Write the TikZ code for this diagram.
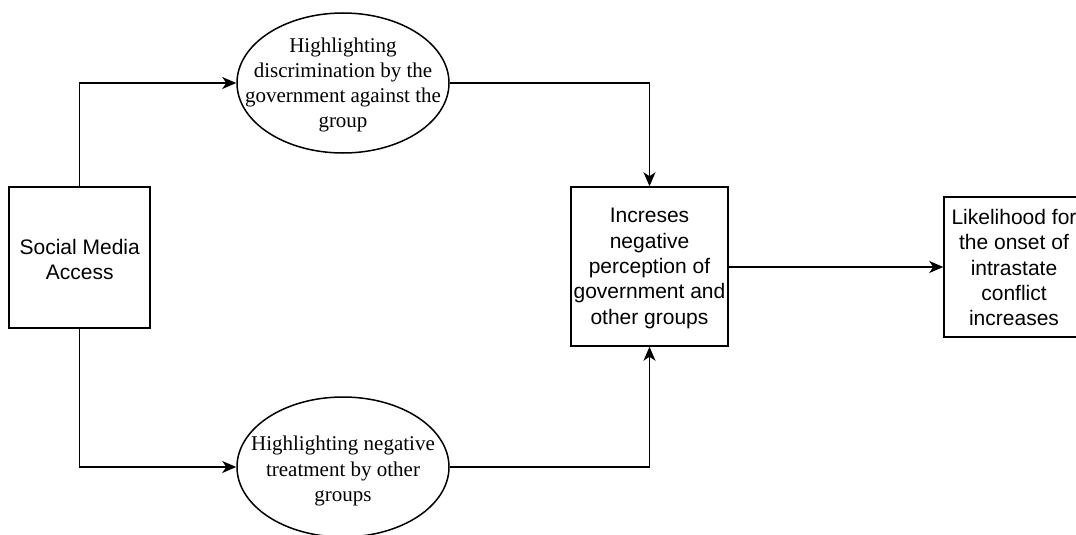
\documentclass[tikz,border=0pt]{standalone}
\usepackage{fontspec}
\setmainfont{Liberation Serif}
\setsansfont{Liberation Sans}
\usetikzlibrary{arrows.meta,shapes.geometric}

\begin{document}
\begin{tikzpicture}[x=1pt,y=-1pt,
        box/.style={draw=black,line width=1.5pt,fill=white,minimum width=#1,inner sep=0pt},
        oval/.style={draw=black,line width=1.5pt,fill=white,ellipse,minimum width=212pt,minimum height=140pt,inner sep=0pt},
        boxtext/.style={font=\sffamily\fontsize{21}{25.3}\selectfont,align=center,inner sep=0pt},
        ovaltext/.style={font=\rmfamily\fontsize{21}{25.3}\selectfont,align=center,inner sep=0pt},
        conn/.style={line width=1.5pt,-{Stealth[length=14pt,width=12pt,inset=4pt]}}]
        \useasboundingbox (0,0) rectangle (1076,535);
        \node [box=141pt,minimum height=141pt] (social) at (79.7,257.5) {};
        \node [boxtext] (socialtext) at (79.7,259.5) {Social Media\\Access};
        \node [oval] (discr) at (343,83) {};
        \node [ovaltext] (discrtext) at (343,85) {Highlighting\\discrimination by the\\government against the\\group};
        \node [oval] (treat) at (343,467) {};
        \node [ovaltext] (treattext) at (343,471) {Highlighting negative\\treatment by other\\groups};
        \node [box=157pt,minimum height=159pt] (percep) at (649.5,266.5) {};
        \node [boxtext] (perceptext) at (649.5,268.5) {Increses\\negative\\perception of\\government and\\other groups};
        \node [box=140pt,minimum height=140pt] (onset) at (1014,267) {};
        \node [boxtext] (onsettext) at (1014,267.5) {Likelihood for\\the onset of\\intrastate\\conflict\\increases};
        \draw [conn] (social.north) |- (discr.west);
        \draw [conn] (social.south) |- (treat.west);
        \draw [conn] (discr.east) -| (percep.north);
        \draw [conn] (treat.east) -| (percep.south);
        \draw [conn] (percep.east |- onset.west) -- (onset.west);
\end{tikzpicture}
\end{document}
